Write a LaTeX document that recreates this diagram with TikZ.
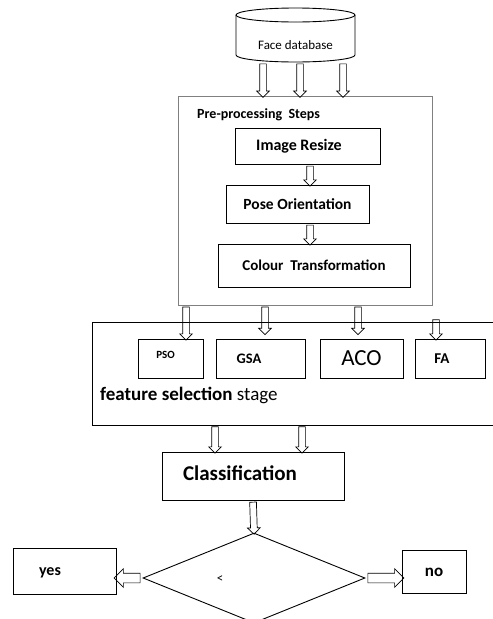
\documentclass[tikz,border=0pt]{standalone}
\usepackage{fontspec}
\setmainfont{Carlito}
\usetikzlibrary{shapes.geometric,shapes.arrows,calc}

\tikzset{
  box/.style={draw, line width=0.9pt, inner sep=0pt},
  blockarr/.style={draw, single arrow, line width=0.7pt, inner xsep=0pt, inner ysep=3pt, single arrow head extend=3pt, allow upside down},
  wideblockarr/.style={inner ysep=4.5pt, single arrow head extend=4.5pt},
}
% hollow block arrow from one point to another
\newcommand{\blockarrow}[3][]{\path let \p1=(#2), \p2=(#3), \n1={veclen(\x2-\x1,\y2-\y1)} in (\p1) -- (\p2) node[midway, sloped, blockarr, minimum height=\n1, #1] {};}

\begin{document}
\begin{tikzpicture}[x=1pt,y=-1pt,font=\bfseries]
        \clip (0,0) rectangle (493,619);
        \useasboundingbox (0,0) rectangle (493,619);
        % database
        \node[inner sep=0pt, minimum width=119, minimum height=54] (db) at (295.5,35) {};
        \node[font=\fontsize{13}{14}\selectfont] (dbtxt) at (295.5,45) {Face database};
        \draw [line width=0.9pt] (295.5,15) ellipse (59.5 and 7);
        \draw [line width=0.9pt] (236,15) -- (236,55) arc (180:0:59.5 and 7) -- (355,15);
        % pre-processing
        \node[draw, gray, line width=0.7pt, minimum width=254, minimum height=209, inner sep=0pt] (pre) at (305,200.5) {};
        \node[anchor=west, font=\fontsize{14}{15}\selectfont\bfseries, inner sep=0pt] (pretxt) at (197,115) {Pre-processing~ Steps};
        \node[box, minimum width=145, minimum height=36] (resize) at (308,146) {};
        \node[font=\fontsize{16}{18}\selectfont\bfseries] (resizetxt) at (299,146) {Image Resize};
        \node[box, minimum width=143, minimum height=38, font=\fontsize{15.5}{18}\selectfont\bfseries] (pose) at (297.5,204) {Pose Orientation};
        \node[box, minimum width=192, minimum height=43, font=\fontsize{15}{18}\selectfont\bfseries] (colour) at (314,265.5) {Colour~ Transformation};
        \blockarrow{db.south -| 263,0}{pre.north -| 263,0}
        \blockarrow{db.south -| 300,0}{pre.north -| 300,0}
        \blockarrow{db.south -| 343,0}{pre.north -| 343,0}
        \blockarrow{resize.south -| 310,0}{pose.north -| 310,0}
        \blockarrow{pose.south -| 310,0}{colour.north -| 310,0}
        % feature selection
        \draw [line width=0.9pt] (520,322) -- (92,322) -- (92,425) -- (520,425);
        \coordinate (fsel) at (92,425);
        \node[box, minimum width=65, minimum height=39] (pso) at (170.5,358.5) {};
        \node[font=\fontsize{11}{12}\selectfont\bfseries] (psotxt) at (165.5,355) {PSO};
        \node[box, minimum width=89, minimum height=39] (gsa) at (260.5,358.5) {};
        \node[font=\fontsize{14.5}{16}\selectfont\bfseries] (gsatxt) at (249,359) {GSA};
        \node[box, minimum width=83, minimum height=39, font=\fontsize{23}{25}\selectfont] (aco) at (361.5,358.5) {ACO};
        \node[box, minimum width=70, minimum height=39] (fa) at (450,358.5) {};
        \node[font=\fontsize{15}{16}\selectfont\bfseries] (fatxt) at (442,359) {FA};
        \node[anchor=west, font=\fontsize{19}{20}\selectfont, inner sep=0pt] (fstxt) at (100,395) {\textbf{feature selection} stage};
        \blockarrow{pre.south -| 186,0}{pso.north -| 186,0}
        \blockarrow{pre.south -| 265,0}{265,333}
        \blockarrow{pre.south -| 358,0}{358,333}
        \blockarrow{436,318}{fa.north -| 436,0}
        % classification
        \node[box, minimum width=182, minimum height=48] (cls) at (253,476) {};
        \node[font=\fontsize{21}{23}\selectfont\bfseries] (clstxt) at (240,473) {Classification};
        \blockarrow{fsel -| 215,0}{cls.north -| 215,0}
        \blockarrow{fsel -| 302,0}{cls.north -| 302,0}
        % decision
        \node[draw, diamond, line width=0.9pt, minimum width=222, minimum height=90, inner sep=0pt, aspect=2.4] (dec) at (254,578) {};
        \node[font=\fontsize{13}{14}\selectfont] (lt) at (220,579) {<};
        \node[box, minimum width=103, minimum height=46] (yes) at (64.5,571) {};
        \node[font=\fontsize{16}{18}\selectfont\bfseries] (yestxt) at (50,573) {yes};
        \node[box, minimum width=64, minimum height=43, font=\fontsize{17}{18}\selectfont\bfseries] (no) at (434,572) {no};
        \blockarrow{cls.south}{dec.north}
        \blockarrow[wideblockarr]{dec.west}{dec.west -| yes.east}
        \blockarrow[wideblockarr]{dec.east}{dec.east -| no.west}
\end{tikzpicture}
\end{document}
